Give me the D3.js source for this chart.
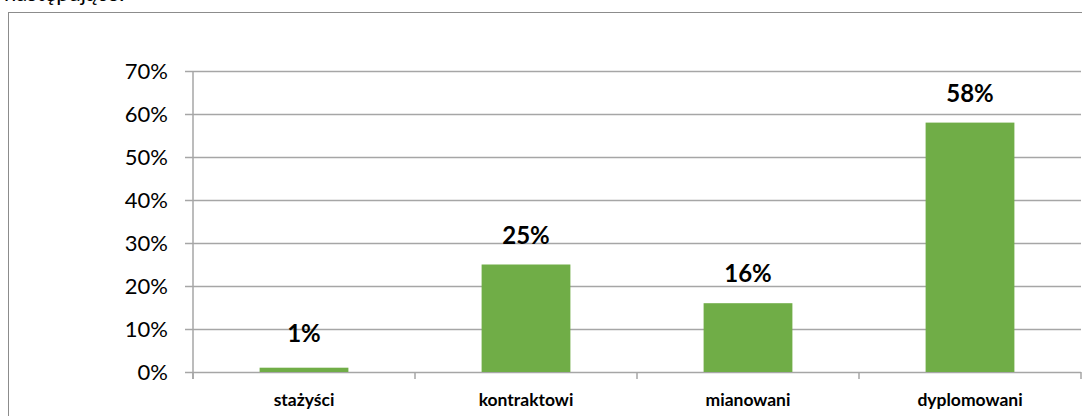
<!DOCTYPE html>
<html>
<head>
<meta charset="utf-8">
<script src="https://cdn.jsdelivr.net/npm/d3@7"></script>
<style>
  body { margin: 0; background: #fff; }
  svg { display: block; }
</style>
</head>
<body>
<svg id="chart" width="1082" height="416"></svg>
<script>
const categories = ["stażyści", "kontraktowi", "mianowani", "dyplomowani"];
const values = [0.01, 0.25, 0.16, 0.58];
const labels = ["1%", "25%", "16%", "58%"];
const yTicks = [0, 0.1, 0.2, 0.3, 0.4, 0.5, 0.6, 0.7];

const svg = d3.select("#chart");
const font = "Lato, 'Open Sans', sans-serif";

const margin = { left: 193, right: 1, top: 71, bottom: 44 };
const W = 1082, H = 416;

// heading above the chart frame, cut off at the top like in the source
svg.append("text")
    .attr("x", 4)
    .attr("y", 1)
    .style("font-family", font)
    .style("font-size", "22px")
    .style("fill", "#000")
    .text("następujące:");

// chart frame
svg.append("rect")
    .attr("x", 8.5)
    .attr("y", 12.5)
    .attr("width", 1080)
    .attr("height", 420)
    .style("fill", "#fff")
    .style("stroke", "#8c8c8c")
    .style("stroke-width", 1);

const x = d3.scaleBand()
    .domain(categories)
    .range([margin.left, W - margin.right])
    .paddingInner(0.6)
    .paddingOuter(0.3);

const xBand = d3.scaleBand()
    .domain(categories)
    .range([margin.left, W - margin.right]);

const y = d3.scaleLinear()
    .domain([0, 0.7])
    .range([H - margin.bottom, margin.top]);

// gridlines + y axis
const yAxis = d3.axisLeft(y)
    .tickValues(yTicks)
    .tickSize(-(W - margin.right - margin.left))
    .tickPadding(25)
    .tickFormat(d3.format(".0%"));

const gy = svg.append("g")
    .attr("transform", `translate(${margin.left},0)`)
    .call(yAxis);
gy.select(".domain").remove();
gy.selectAll(".tick line")
    .attr("x1", -8)
    .style("stroke", "#a6a6a6")
    .style("stroke-width", 1.5);
gy.selectAll(".tick text")
    .style("font-family", font)
    .style("font-size", "22px")
    .style("fill", "#000");

svg.append("line")
    .attr("x1", margin.left).attr("x2", margin.left)
    .attr("y1", margin.top).attr("y2", H - margin.bottom + 7)
    .style("stroke", "#a6a6a6")
    .style("stroke-width", 1.5);

// x axis ticks between categories
const xTickPos = categories.map(c => xBand(c)).concat([W - margin.right]);
svg.append("g").selectAll("line")
    .data(xTickPos)
    .enter()
    .append("line")
    .attr("x1", d => d).attr("x2", d => d)
    .attr("y1", H - margin.bottom).attr("y2", H - margin.bottom + 7)
    .style("stroke", "#a6a6a6")
    .style("stroke-width", 1.5);

svg.append("g").selectAll("text")
    .data(categories)
    .enter()
    .append("text")
    .attr("x", d => xBand(d) + xBand.bandwidth() / 2)
    .attr("y", 406)
    .attr("text-anchor", "middle")
    .style("font-family", font)
    .style("font-size", "17.5px")
    .style("font-weight", "bold")
    .style("fill", "#000")
    .text(d => d);

// bars
svg.append("g").selectAll("rect")
    .data(values)
    .enter()
    .append("rect")
    .attr("x", (d, i) => x(categories[i]))
    .attr("y", d => y(d))
    .attr("width", x.bandwidth())
    .attr("height", d => y(0) - y(d))
    .style("fill", "#70ad47");

// value labels
svg.append("g").selectAll("text")
    .data(values)
    .enter()
    .append("text")
    .attr("x", (d, i) => x(categories[i]) + x.bandwidth() / 2)
    .attr("y", (d, i) => i === 0 ? y(d) - 26 : y(d) - 21)
    .attr("text-anchor", "middle")
    .style("font-family", font)
    .style("font-size", "24px")
    .style("font-weight", "bold")
    .style("fill", "#000")
    .text((d, i) => labels[i]);
</script>
</body>
</html>
